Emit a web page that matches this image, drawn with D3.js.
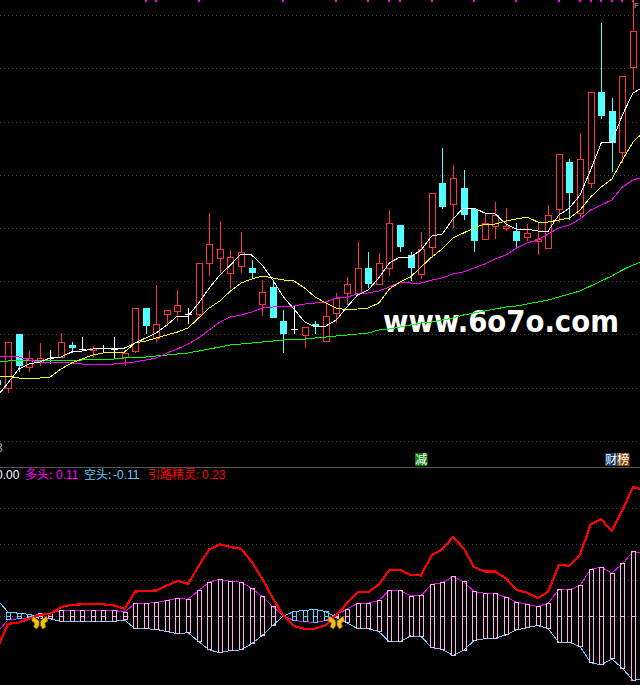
<!DOCTYPE html>
<html><head><meta charset="utf-8">
<script src="https://cdn.jsdelivr.net/npm/d3@7/dist/d3.min.js"></script>
<style>html,body{margin:0;padding:0;background:#000;overflow:hidden}svg{display:block}</style>
</head><body><svg id="c" width="640" height="685"></svg>
<script>
const open=[8.5,7.7,13.1,9.8,10.3,10.7,10.8,12.0,11.6,11.5,11.7,11.6,10.8,11.4,15.7,12.7,15.1,15.4,15.1,15.1,20.2,20.7,19.2,19.9,19.7,16.1,17.8,14.4,13.6,13.0,14.1,12.4,15.2,17.2,17.2,19.7,18.1,19.7,24.0,21.0,19.1,21.8,28.2,26.1,27.7,25.6,22.6,23.9,23.7,23.4,22.8,22.4,21.7,25.6,30.3,25.2,28.2,37.3,35.4,31.3,39.8];
const close=[8.0,12.3,9.9,10.7,10.7,10.7,12.3,11.7,11.6,11.7,11.7,11.6,11.2,15.7,13.9,14.1,15.5,16.0,15.1,20.2,22.1,21.6,20.8,21.3,19.2,17.3,14.7,13.1,13.6,13.8,13.9,14.9,16.7,18.1,19.7,18.1,20.2,24.2,21.8,19.7,21.6,27.2,25.8,28.7,25.0,22.4,24.2,25.0,23.9,22.4,23.2,22.6,25.0,31.1,27.2,30.6,37.3,34.9,32.2,38.9,43.4];
const high=[8.7,12.3,13.1,11.4,12.2,11.5,13.2,12.3,12.8,11.9,12.0,12.8,11.2,15.7,15.7,18.0,15.5,17.5,15.7,20.2,25.2,24.4,21.5,23.3,20.5,18.5,18.4,15.5,15.9,13.8,14.4,16.3,17.2,18.8,22.3,21.3,21.2,25.5,24.0,21.3,23.3,27.2,31.7,30.0,29.5,25.6,25.2,26.3,25.7,24.2,24.1,24.2,26.0,31.1,30.6,33.2,37.3,44.2,36.7,38.9,46.7];
const low=[7.7,7.2,9.3,9.3,9.9,10.1,10.8,11.2,11.5,10.7,11.3,10.7,9.9,11.2,13.1,12.3,13.9,14.4,14.1,14.8,18.9,19.2,17.6,19.2,18.6,14.9,14.7,11.2,13.1,11.7,13.1,12.3,14.2,16.0,17.0,17.7,18.1,18.9,21.3,18.4,18.6,20.7,25.6,23.7,24.5,21.3,22.6,22.6,23.4,21.8,22.4,21.0,21.6,24.2,24.5,24.8,27.7,34.6,29.3,30.2,37.5];
const ma5=[6.9,8.2,9.6,10.1,10.3,10.7,10.8,11.3,11.4,11.6,11.7,11.7,11.7,12.2,12.7,13.2,14.0,14.9,14.9,16.2,17.7,19.0,20.0,21.1,21.0,20.0,18.5,16.8,15.6,14.3,13.8,13.9,14.5,15.8,17.0,17.5,18.7,20.2,20.8,20.8,21.5,22.9,23.1,24.6,25.7,25.7,25.2,25.1,24.1,23.6,23.6,23.4,23.4,25.0,25.7,27.0,29.5,32.2,32.3,35.0,37.2,37.8];
const ma10=[8.9,8.9,8.7,8.7,8.7,8.8,9.6,10.2,10.6,11.0,11.2,11.3,11.3,12.2,12.4,12.7,13.0,13.3,13.7,14.7,15.7,16.4,17.4,18.2,18.6,18.9,18.7,18.5,18.4,17.7,16.8,16.2,15.7,15.5,15.6,15.7,16.2,17.6,18.3,18.8,19.8,20.8,21.6,22.7,23.2,23.7,24.1,24.1,24.4,24.6,24.8,24.3,24.3,24.5,24.7,25.5,26.8,27.8,28.6,30.5,32.3,33.3];
const ma20=[10.9,10.9,10.8,10.5,10.3,10.3,10.3,10.2,10.1,10.1,10.1,10.1,10.2,10.3,10.5,10.7,11.2,11.6,12.1,12.7,13.5,14.3,14.8,15.0,15.3,15.7,15.8,15.9,15.9,16.1,16.2,16.3,16.7,16.8,17.1,17.2,17.4,17.8,18.3,18.2,18.2,18.5,18.7,19.1,19.3,19.7,20.1,20.6,21.0,21.7,22.2,22.5,23.1,23.7,24.0,24.6,25.5,26.0,26.5,27.8,28.5,28.8];
const ma60=[10.4,10.4,10.45,10.5,10.5,10.5,10.5,10.5,10.5,10.6,10.6,10.6,10.7,10.8,10.8,10.9,11.0,11.1,11.2,11.4,11.6,11.8,12.0,12.1,12.2,12.3,12.4,12.5,12.6,12.6,12.7,12.8,12.9,13.0,13.1,13.2,13.5,13.6,13.8,14.0,14.2,14.3,14.5,14.7,15.0,15.2,15.4,15.6,15.8,15.9,16.1,16.3,16.5,16.8,17.1,17.4,17.9,18.4,18.9,19.5,20.0,20.4];
const duoTou=[-0.029,-0.007,-0.005,-0.003,0.004,0.005,0.010,0.010,0.010,0.010,0.010,0.010,0.007,0.023,0.023,0.024,0.028,0.032,0.030,0.046,0.061,0.066,0.062,0.061,0.050,0.035,0.017,0,-0.008,-0.010,-0.012,-0.008,0.003,0.012,0.023,0.023,0.028,0.046,0.046,0.036,0.037,0.057,0.060,0.071,0.062,0.044,0.041,0.040,0.034,0.025,0.021,0.017,0.023,0.048,0.047,0.055,0.084,0.088,0.077,0.094,0.116,0.113];
const kongTou=[0.029,0.007,0.005,0.003,-0.004,-0.005,-0.010,-0.010,-0.010,-0.010,-0.010,-0.010,-0.007,-0.023,-0.023,-0.024,-0.028,-0.032,-0.030,-0.046,-0.061,-0.066,-0.062,-0.061,-0.050,-0.035,-0.017,0,0.008,0.010,0.012,0.008,-0.003,-0.012,-0.023,-0.023,-0.028,-0.046,-0.046,-0.036,-0.037,-0.057,-0.060,-0.071,-0.062,-0.044,-0.041,-0.040,-0.034,-0.025,-0.021,-0.017,-0.023,-0.048,-0.047,-0.055,-0.084,-0.088,-0.077,-0.094,-0.116,-0.113];
const yinLu=[-0.058,-0.014,-0.012,-0.005,0.002,0.004,0.016,0.020,0.021,0.021,0.021,0.019,0.013,0.044,0.045,0.046,0.055,0.063,0.058,0.090,0.120,0.129,0.124,0.121,0.098,0.067,0.032,0.001,-0.018,-0.023,-0.023,-0.016,0.002,0.023,0.043,0.043,0.056,0.083,0.083,0.074,0.073,0.110,0.120,0.142,0.122,0.088,0.080,0.080,0.068,0.047,0.042,0.032,0.044,0.092,0.090,0.110,0.165,0.174,0.153,0.191,0.232,0.227];
const priceGrid=[45.0,39.7,34.3,29.0,23.7,18.4,13.1,7.7,2.4];
const subGrid=[0.194,0.130,0.065,0];
const topMarks=[14,15,19,27,32,35,37,38,41,45,49,53,55,56,57,58,59,60];
const butterflies=[4,32];
const legend=[["0.00","#ffffff"],["多头: ","#ff00ff"],["0.11","#ff00ff"],["空头: ","#66ccff"],["-0.11","#66ccff"],["引路精灵: ","#ff0000"],["0.23","#ff0000"]];

const W=640,H=685;
const x=d3.scaleLinear().domain([0,60]).range([-2.6,633]);
const y=d3.scaleLinear().domain([0,46.5]).range([465,0]);
const ySub=d3.scaleLinear().domain([-0.1242,0.27]).range([685,466]);
const svg=d3.select("#c");
svg.append("rect").attr("width",W).attr("height",H).attr("fill","#000");
const crisp="crispEdges";

// grid
function grid(vals,s){svg.append("g").selectAll("line").data(vals).join("line")
  .attr("x1",0).attr("x2",W).attr("y1",d=>Math.round(s(d))+.5).attr("y2",d=>Math.round(s(d))+.5)
  .attr("stroke","#4a4a4a").attr("stroke-dasharray","1 3").attr("shape-rendering",crisp);}
grid(priceGrid,y);grid(subGrid,ySub);
svg.append("line").attr("x1",0).attr("x2",W).attr("y1",467.5).attr("y2",467.5).attr("stroke","#555").attr("stroke-width",1);

// top marks
svg.append("g").selectAll("rect").data(topMarks).join("rect")
  .attr("x",d=>Math.round(x(d))-1).attr("y",0).attr("width",2).attr("height",2).attr("fill","#ff00ff").attr("shape-rendering",crisp);

// watermark
svg.append("text").attr("transform","translate(383,332) scale(0.89,1)").attr("font-family","DejaVu Sans").attr("font-weight","bold").attr("font-size",31)
  .attr("fill","#ffffff").text("www.6o7o.com");

// candles
const RED="#ff3333",CY="#54ffff",candW=6;
const candles=open.map((o,i)=>({i,o,c:close[i],h:high[i],l:low[i]}));
const g=svg.append("g").attr("shape-rendering",crisp);
candles.forEach(d=>{
  const cx=Math.round(x(d.i))+.5, top=y(Math.max(d.o,d.c)), bot=y(Math.min(d.o,d.c));
  const col=d.c>d.o?RED:d.c<d.o?CY:"#ffffff";
  g.append("line").attr("x1",cx).attr("x2",cx).attr("y1",y(d.h)).attr("y2",top).attr("stroke",col);
  g.append("line").attr("x1",cx).attr("x2",cx).attr("y1",bot).attr("y2",y(d.l)).attr("stroke",col);
  if(d.c>d.o) g.append("rect").attr("x",cx-3).attr("y",top).attr("width",candW).attr("height",bot-top).attr("fill","#000").attr("stroke",RED).attr("stroke-width",1);
  else if(d.c<d.o) g.append("rect").attr("x",cx-3.5).attr("y",top).attr("width",candW+1).attr("height",bot-top).attr("fill",CY);
  else g.append("line").attr("x1",cx-3.5).attr("x2",cx+3.5).attr("y1",top).attr("y2",top).attr("stroke","#fff");
});

// moving averages
const line=d3.line().x((d,i)=>x(i)).y(d=>y(d));
[[ma60,"#00ff00"],[ma20,"#ff00ff"],[ma10,"#ffff00"],[ma5,"#ffffff"]].forEach(([s,c])=>{
  svg.append("path").attr("d",line(s)).attr("fill","none").attr("stroke",c).attr("stroke-width",1).attr("shape-rendering",crisp);
});

// badges
function badge(bx,by,c,t){
  svg.append("rect").attr("x",bx).attr("y",by).attr("width",12.5).attr("height",13).attr("fill",c);
  svg.append("text").attr("x",bx+6.2).attr("y",by+11).attr("text-anchor","middle").attr("font-family","Noto Sans CJK SC").attr("font-size",12).attr("fill","#fff").text(t);
}
badge(415,453,"#0b7d0b","减");badge(605,453,"#0c3c6e","财");badge(617,453,"#8a4a10","榜");

// left clipped digit and corner mark
svg.append("text").attr("x",-4).attr("y",452).attr("font-family","Liberation Sans").attr("font-size",12).attr("fill","#aaaaaa").text("3");
svg.append("text").attr("x",634).attr("y",8).attr("font-family","Liberation Sans").attr("font-size",8).attr("fill","#bbbbbb").text("F");

// legend
const lx=[-4,25,56,84,113,148,202];
const lg=svg.append("g");
legend.forEach(([t,c],i)=>{
  lg.append("text").attr("x",lx[i]).attr("y",479).attr("font-family",/[0-9]/.test(t)?"Liberation Sans":"Noto Sans CJK SC").attr("font-size",12).attr("fill",c).text(t);
});

// sub chart lines
const subLine=d3.line().x((d,i)=>x(i)).y(d=>ySub(d));
svg.append("path").attr("d",subLine(duoTou)).attr("fill","none").attr("stroke","#ff00ff").attr("stroke-width",1).attr("shape-rendering",crisp);
svg.append("path").attr("d",subLine(kongTou)).attr("fill","none").attr("stroke","#66ccff").attr("stroke-width",1).attr("shape-rendering",crisp);

// sub bars: one hollow bar up, one down
const bars=svg.append("g").attr("shape-rendering",crisp).attr("fill","none").attr("stroke-width",1);
duoTou.forEach((v,i)=>{
  if(v===0) return;
  const cx=Math.round(x(i))+.5, col=v>0?"#ffb0e8":"#66ccff", a=ySub(Math.abs(v)), z=ySub(0), b=ySub(-Math.abs(v));
  bars.append("rect").attr("x",cx-2).attr("y",a).attr("width",4).attr("height",z-a).attr("stroke",col);
  bars.append("rect").attr("x",cx-2).attr("y",z).attr("width",4).attr("height",b-z).attr("stroke",col);
});

// red line
svg.append("path").attr("d",subLine(yinLu)).attr("fill","none").attr("stroke","#ff0000").attr("stroke-width",2.2).attr("shape-rendering",crisp);

// butterflies
butterflies.forEach(i=>{
  const t=svg.append("g").attr("transform",`translate(${x(i)},${ySub(-0.0108)})`);
  t.append("path").attr("d","M-0.5,-1 L-7,-6 L-8,-1 L-5,1 L-6,5 L-3,7 L-0.5,3 Z M0.5,-1 L7,-6 L8,-1 L5,1 L6,5 L3,7 L0.5,3 Z")
    .attr("fill","#f2c21a").attr("stroke","#9a6a10").attr("stroke-width",.7);
  t.append("line").attr("x1",0).attr("x2",0).attr("y1",-4).attr("y2",3).attr("stroke","#3a2a10").attr("stroke-width",1.4);
});
</script></body></html>
